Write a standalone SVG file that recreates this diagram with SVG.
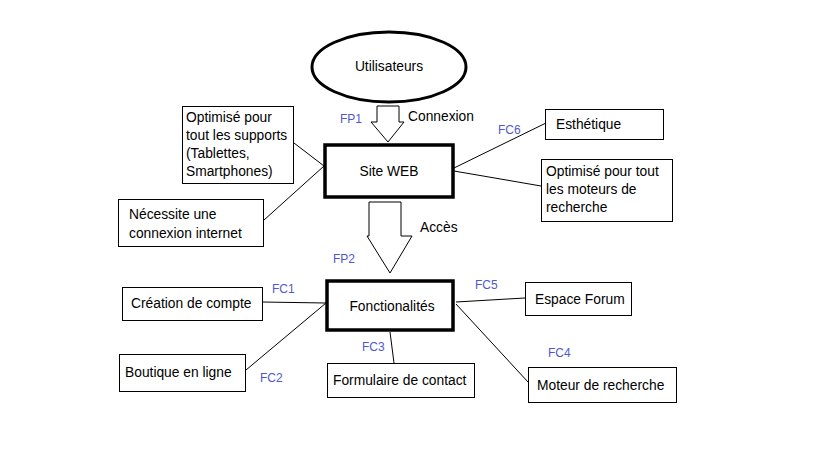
<svg xmlns="http://www.w3.org/2000/svg" width="819" height="460" viewBox="0 0 819 460">
<style>
text{font-family:"Liberation Sans",Arial,sans-serif;font-size:13.8px;fill:#000}
.lbl{font-size:12px;fill:#5058d0}
.box{fill:#fff;stroke:#000;stroke-width:1}
.main{fill:#fff;stroke:#000;stroke-width:3.5}
.ln{stroke:#000;stroke-width:1;fill:none}
.arr{fill:#fff;stroke:#000;stroke-width:1}
</style>
<rect width="819" height="460" fill="#fff"/>
<g id="connectors">
<polygon class="arr" points="377,106 399,106 399,122 404,122 388,142 371,122 377,122"/>
<polygon class="arr" points="369,202 401,202 401,236 412,236 390,273 367,236 369,236"/>
<line class="ln" x1="294" y1="143" x2="324" y2="166"/>
<line class="ln" x1="264" y1="220" x2="324" y2="166"/>
<line class="ln" x1="454" y1="168" x2="546" y2="123"/>
<line class="ln" x1="454" y1="171" x2="541" y2="186"/>
<line class="ln" x1="262" y1="302" x2="326" y2="303"/>
<line class="ln" x1="246" y1="370" x2="326" y2="303"/>
<line class="ln" x1="390" y1="332" x2="394" y2="363"/>
<line class="ln" x1="456" y1="302" x2="525" y2="298"/>
<line class="ln" x1="456" y1="304" x2="528" y2="382"/>
<text x="408" y="121">Connexion</text>
<text x="420" y="232">Accès</text>
<text class="lbl" x="340" y="123">FP1</text>
<text class="lbl" x="333" y="263">FP2</text>
<text class="lbl" x="498" y="134">FC6</text>
<text class="lbl" x="272" y="293">FC1</text>
<text class="lbl" x="260" y="382">FC2</text>
<text class="lbl" x="362" y="351">FC3</text>
<text class="lbl" x="475" y="289">FC5</text>
<text class="lbl" x="548" y="357">FC4</text>
</g>
<g id="utilisateurs">
<ellipse cx="389" cy="67" rx="77" ry="35" fill="#fff" stroke="#000" stroke-width="3"/>
<text x="389" y="71" text-anchor="middle">Utilisateurs</text>
</g>
<g id="site-web">
<rect class="main" x="325" y="145" width="128" height="52"/>
<text x="389" y="176" text-anchor="middle">Site WEB</text>
</g>
<g id="fonctionalites">
<rect class="main" x="327" y="281" width="126" height="49"/>
<text x="392" y="311" text-anchor="middle">Fonctionalités</text>
</g>
<g id="supports">
<rect class="box" x="182.500" y="106.500" width="111" height="77"/>
<text x="186" y="122">Optimisé pour</text>
<text x="186" y="140">tout les supports</text>
<text x="186" y="158">(Tablettes,</text>
<text x="186" y="176">Smartphones)</text>
</g>
<g id="internet">
<rect class="box" x="118.500" y="199.500" width="145" height="47"/>
<text x="129" y="219">Nécessite une</text>
<text x="129" y="238">connexion internet</text>
</g>
<g id="esthetique">
<rect class="box" x="545.500" y="109.500" width="118" height="30"/>
<text x="556" y="129">Esthétique</text>
</g>
<g id="moteurs">
<rect class="box" x="541.500" y="159.500" width="131" height="62"/>
<text x="546" y="176">Optimisé pour tout</text>
<text x="546" y="194">les moteurs de</text>
<text x="546" y="212">recherche</text>
</g>
<g id="creation">
<rect class="box" x="122.500" y="287.500" width="140" height="33"/>
<text x="131" y="308">Création de compte</text>
</g>
<g id="boutique">
<rect class="box" x="119.500" y="354.500" width="126" height="37"/>
<text x="125" y="377">Boutique en ligne</text>
</g>
<g id="formulaire">
<rect class="box" x="327.500" y="363.500" width="147" height="34"/>
<text x="333" y="385">Formulaire de contact</text>
</g>
<g id="forum">
<rect class="box" x="525.500" y="282.500" width="106" height="33"/>
<text x="535" y="304">Espace Forum</text>
</g>
<g id="moteur">
<rect class="box" x="528.500" y="367.500" width="148" height="35"/>
<text x="537" y="390">Moteur de recherche</text>
</g>
</svg>
